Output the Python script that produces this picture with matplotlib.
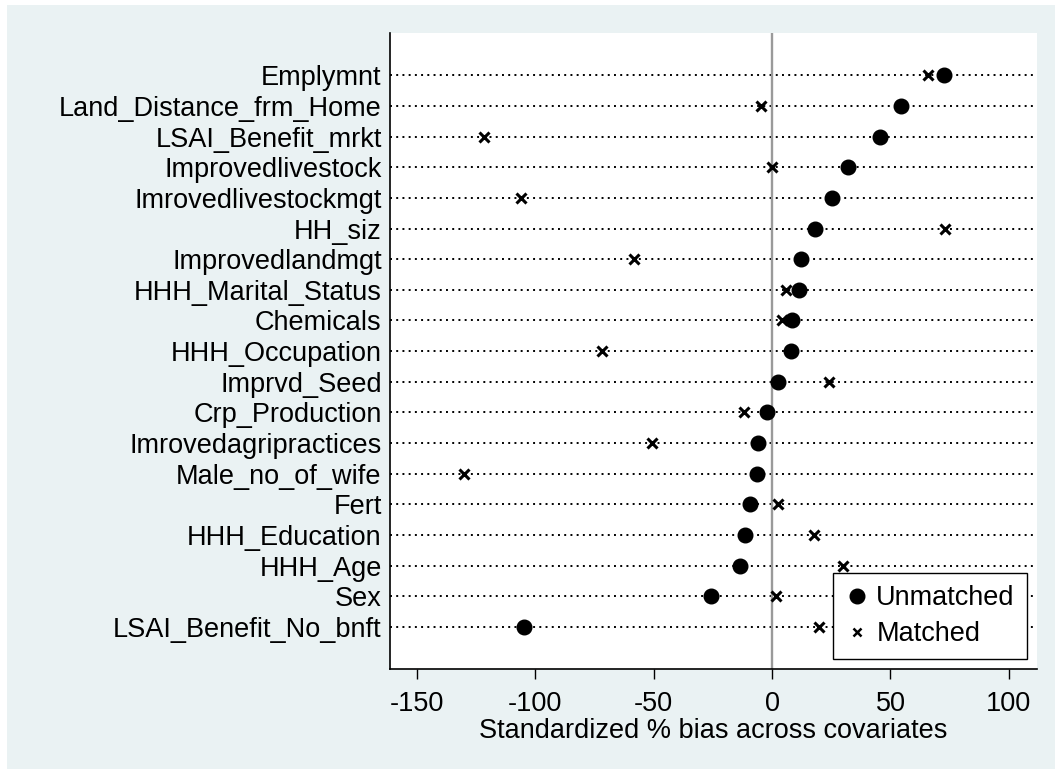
import numpy as np
import matplotlib.pyplot as plt
from matplotlib.patches import Rectangle

plt.rcParams['font.family'] = ['Liberation Sans', 'DejaVu Sans']

# covariates, top to bottom
covariates = ['Emplymnt', 'Land_Distance_frm_Home', 'LSAI_Benefit_mrkt',
              'Improvedlivestock', 'Imrovedlivestockmgt', 'HH_siz',
              'Improvedlandmgt', 'HHH_Marital_Status', 'Chemicals',
              'HHH_Occupation', 'Imprvd_Seed', 'Crp_Production',
              'Imrovedagripractices', 'Male_no_of_wife', 'Fert',
              'HHH_Education', 'HHH_Age', 'Sex', 'LSAI_Benefit_No_bnft']

# standardized % bias before and after matching
unmatched = [72.7, 54.6, 45.4, 31.9, 25.4, 18.2, 12.3, 11.4, 8.4, 8.0,
             2.7, -1.9, -5.9, -6.5, -9.4, -11.4, -13.3, -25.8, -104.7]
matched = [65.8, -4.6, -121.6, -0.2, -106.1, 72.9, -58.3, 6.0, 4.3, -71.8,
           24.2, -11.9, -50.8, -130.0, 2.5, 17.6, 29.9, 1.6, 19.9]

xticks = [-150, -100, -50, 0, 50, 100]
fs = 19.5

bg = '#eaf2f3'
fig = plt.figure(figsize=(10.55, 7.69), dpi=100, facecolor='white')
fig.patches.append(Rectangle((7 / 1055, 0), 1, 1 - 5 / 769,
                             transform=fig.transFigure, facecolor=bg,
                             edgecolor='none', zorder=-10))

ax = fig.add_axes([390 / 1055, 1 - 669 / 769, (1036.7 - 390) / 1055,
                   (669 - 33.3) / 769])
ax.set_facecolor('white')

n = len(covariates)
ypos = np.arange(n, 0, -1)

# dotted guide line for every covariate
for y in ypos:
    ax.axhline(y, color='black', linewidth=1.4, linestyle=(0, (1, 2.2)),
               zorder=1)
ax.axvline(0, color='#9a9a9a', linewidth=1.7, zorder=1)

ax.plot(unmatched, ypos, 'o', color='black', markersize=10.5,
        linestyle='none', label='Unmatched', zorder=3)
ax.plot(matched, ypos, 'x', color='black', markersize=7, markeredgewidth=2.2,
        linestyle='none', label='Matched', zorder=3)

ax.set_xlim(-161.2, 111.7)
ax.set_ylim(1 - 1.37, n + 1.37)
ax.set_xticks(xticks)
ax.set_xticklabels([str(t) for t in xticks], fontsize=fs)
ax.set_yticks(ypos)
ax.set_yticklabels(covariates, fontsize=fs)
ax.tick_params(axis='y', length=0, pad=6)
ax.tick_params(axis='x', length=7.5, width=1, pad=8, direction='out')
ax.set_xlabel('Standardized % bias across covariates', fontsize=fs,
              labelpad=1)

for s in ['top', 'right']:
    ax.spines[s].set_visible(False)
for s in ['left', 'bottom']:
    ax.spines[s].set_linewidth(1.2)

leg = ax.legend(loc='lower right', bbox_to_anchor=(0.985, 0.015),
                fontsize=fs, frameon=True, fancybox=False,
                handletextpad=0.3, handlelength=0.85, borderpad=0.45,
                labelspacing=0.38, borderaxespad=0)
leg.get_frame().set_edgecolor('black')
leg.get_frame().set_linewidth(1.0)
leg.get_frame().set_alpha(1)
leg.legend_handles[1].set_markersize(5.5)
leg.legend_handles[1].set_markeredgewidth(1.8)

fig.savefig('out.png', dpi=100, facecolor=fig.get_facecolor())
